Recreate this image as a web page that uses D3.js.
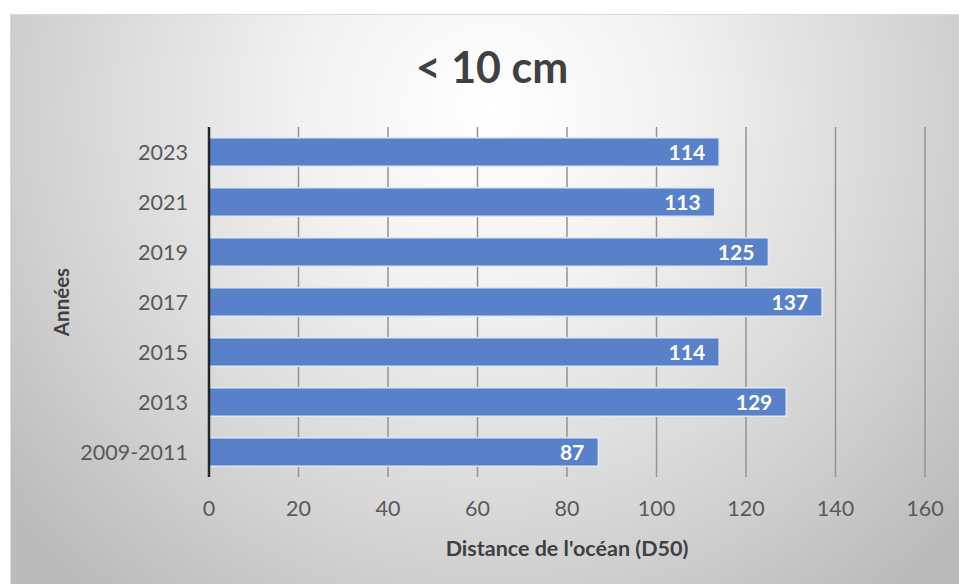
<!DOCTYPE html>
<html>
<head>
<meta charset="utf-8">
<script src="https://cdn.jsdelivr.net/npm/d3@7"></script>
<style>
    body { margin: 0; background: #fff; }
    svg { display: block; font-family: Lato, 'Open Sans', sans-serif; }
</style>
</head>
<body>
<div id="chart"></div>
<script>
const years = ['2023', '2021', '2019', '2017', '2015', '2013', '2009-2011']
const distances = [114, 113, 125, 137, 114, 129, 87]
const xTicks = [0, 20, 40, 60, 80, 100, 120, 140, 160]

drawBars()
function drawBars() {
    const data = years.map((y, i) => ({ year: y, value: distances[i] }))

    let dim = {
        width: 959,
        height: 584,
        margin: { top: 127, right: 34, bottom: 107, left: 209 }
    }
    dim.boundedWidth = dim.width - dim.margin.left - dim.margin.right
    dim.boundedHeight = dim.height - dim.margin.top - dim.margin.bottom

    const wrapper = d3.select('#chart')
        .append('svg')
        .attr('width', dim.width)
        .attr('height', dim.height)

    const defs = wrapper.append('defs')
    const grad = defs.append('radialGradient')
        .attr('id', 'bg')
        .attr('gradientUnits', 'userSpaceOnUse')
        .attr('cx', 490).attr('cy', 110).attr('r', 620)
    grad.append('stop').attr('offset', 0).attr('stop-color', '#ffffff')
    grad.append('stop').attr('offset', .3).attr('stop-color', '#f2f2f2')
    grad.append('stop').attr('offset', .7).attr('stop-color', '#d4d4d4')
    grad.append('stop').attr('offset', 1).attr('stop-color', '#bbbbbb')

    wrapper.append('rect')
        .attr('x', 10.5).attr('y', 14.5)
        .attr('width', dim.width).attr('height', dim.height)
        .attr('fill', 'url(#bg)')
        .attr('stroke', '#d9d9d9')

    const bounds = wrapper.append('g')
        .attr('transform', `translate(${dim.margin.left},${dim.margin.top})`)

    const xScale = d3.scaleLinear()
        .domain([0, 160])
        .range([0, dim.boundedWidth])

    const yScale = d3.scaleBand()
        .domain(years)
        .range([0, dim.boundedHeight])
        .paddingInner(.43)
        .paddingOuter(.215)

    // gridlines
    bounds.append('g')
        .selectAll('line')
        .data(xTicks.slice(1))
        .join('line')
        .attr('x1', d => xScale(d)).attr('x2', d => xScale(d))
        .attr('y1', 0).attr('y2', dim.boundedHeight)
        .attr('stroke', '#939393')
        .attr('stroke-width', 1.5)

    // bars
    bounds.append('g')
        .selectAll('rect')
        .data(data)
        .join('rect')
        .attr('x', 0)
        .attr('y', d => yScale(d.year))
        .attr('width', d => xScale(d.value))
        .attr('height', yScale.bandwidth())
        .attr('fill', '#5881ca')
        .attr('stroke', '#dfe7f5')
        .attr('stroke-width', 1.5)

    bounds.append('g')
        .selectAll('text')
        .data(data)
        .join('text')
        .attr('x', d => xScale(d.value) - 14)
        .attr('y', d => yScale(d.year) + yScale.bandwidth() / 2)
        .attr('dy', '0.36em')
        .attr('text-anchor', 'end')
        .attr('fill', '#ffffff')
        .attr('font-weight', 'bold')
        .attr('font-size', 21)
        .text(d => d.value)

    // y axis line
    bounds.append('line')
        .attr('x1', 0).attr('x2', 0)
        .attr('y1', 0).attr('y2', dim.boundedHeight)
        .attr('stroke', '#262626')
        .attr('stroke-width', 2.5)

    // y tick labels
    bounds.append('g')
        .selectAll('text')
        .data(years)
        .join('text')
        .attr('x', -21)
        .attr('y', d => yScale(d) + yScale.bandwidth() / 2)
        .attr('dy', '0.36em')
        .attr('text-anchor', 'end')
        .attr('fill', '#595959')
        .attr('font-size', 21.5)
        .text(d => d)

    // x tick labels
    bounds.append('g')
        .selectAll('text')
        .data(xTicks)
        .join('text')
        .attr('x', d => xScale(d))
        .attr('y', dim.boundedHeight + 31)
        .attr('dy', '0.36em')
        .attr('text-anchor', 'middle')
        .attr('fill', '#595959')
        .attr('font-size', 21.5)
        .text(d => d)

    // axis titles
    bounds.append('text')
        .attr('x', dim.boundedWidth / 2)
        .attr('y', dim.boundedHeight + 71)
        .attr('dy', '0.36em')
        .attr('text-anchor', 'middle')
        .attr('fill', '#404040')
        .attr('font-weight', 'bold')
        .attr('font-size', 21.5)
        .text("Distance de l'océan (D50)")

    bounds.append('text')
        .attr('transform', `translate(-147,${dim.boundedHeight / 2}) rotate(-90)`)
        .attr('dy', '0.36em')
        .attr('text-anchor', 'middle')
        .attr('fill', '#404040')
        .attr('font-weight', 'bold')
        .attr('font-size', 20.5)
        .text('Années')

    wrapper.append('text')
        .attr('x', 492)
        .attr('y', 68)
        .attr('dy', '0.36em')
        .attr('text-anchor', 'middle')
        .attr('fill', '#404040')
        .attr('font-weight', 'bold')
        .attr('font-size', 43)
        .text('< 10 cm')
}
</script>
</body>
</html>
